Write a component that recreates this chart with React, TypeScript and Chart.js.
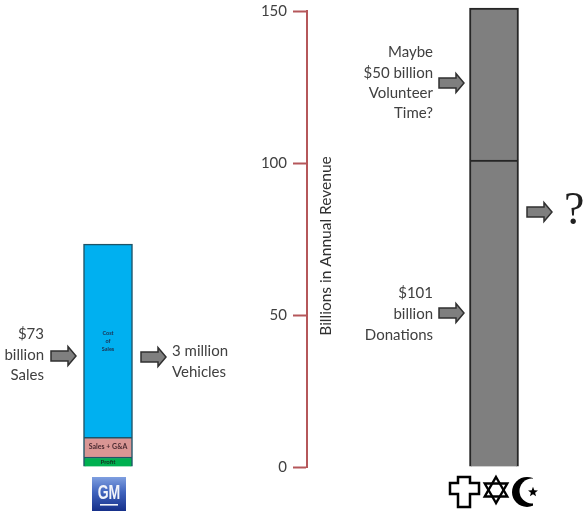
import React, { useEffect, useRef } from "react";
import { Chart, registerables } from "chart.js";

Chart.register(...registerables);

const categories = ["General Motors", "", "", "", "Religious Organizations"];
const profit = [3.3, null, null, null, null];
const salesGA = [6.5, null, null, null, null];
const costOfSales = [63.5, null, null, null, null];
const donations = [null, null, null, null, 101];
const volunteerTime = [null, null, null, null, 50];
const yTicks = [0, 50, 100, 150];
const yAxisTitle = "Billions in Annual Revenue";

const INK = "#404040";
const FONT = "Lato, 'Open Sans', sans-serif";

const notes = [
  { lines: ["$73", "billion", "Sales"], x: 44, y: [334, 355, 375], align: "right" },
  { lines: ["3 million", "Vehicles"], x: 172, y: [351, 372], align: "left" },
  { lines: ["Maybe", "$50 billion", "Volunteer", "Time?"], x: 433, y: [52, 73, 93, 113], align: "right" },
  { lines: ["$101", "billion", "Donations"], x: 433, y: [293, 314, 335], align: "right" },
];
const arrows = [
  [51, 356],
  [141, 357],
  [439, 83],
  [439, 313],
  [527, 212],
];

function drawArrow(ctx: CanvasRenderingContext2D, x: number, y: number) {
  ctx.beginPath();
  ctx.moveTo(x, y - 5);
  ctx.lineTo(x + 17, y - 5);
  ctx.lineTo(x + 17, y - 9.5);
  ctx.lineTo(x + 25, y);
  ctx.lineTo(x + 17, y + 9.5);
  ctx.lineTo(x + 17, y + 5);
  ctx.lineTo(x, y + 5);
  ctx.closePath();
  ctx.fillStyle = "#7f7f7f";
  ctx.fill();
  ctx.strokeStyle = "#303030";
  ctx.lineWidth = 1.5;
  ctx.stroke();
}

function drawLogo(ctx: CanvasRenderingContext2D) {
  const g = ctx.createLinearGradient(0, 477, 0, 511);
  g.addColorStop(0, "#7f9fe0");
  g.addColorStop(0.45, "#3f63bd");
  g.addColorStop(1, "#16308a");
  ctx.fillStyle = g;
  ctx.fillRect(92, 477, 34, 34);
  ctx.fillStyle = "#f2f4fa";
  ctx.textAlign = "center";
  ctx.textBaseline = "middle";
  ctx.save();
  ctx.translate(109, 493);
  ctx.scale(0.78, 1.15);
  ctx.font = `bold 18px 'Liberation Sans', sans-serif`;
  ctx.fillText("GM", 0, 0);
  ctx.restore();
  ctx.fillRect(100, 504, 18, 1.6);
}

function drawSymbols(ctx: CanvasRenderingContext2D) {
  ctx.lineJoin = "miter";
  ctx.beginPath();
  const cross = [
    [458, 477], [470, 477], [470, 483], [479, 483], [479, 494], [470, 494],
    [470, 507], [458, 507], [458, 494], [450, 494], [450, 483], [458, 483],
  ];
  cross.forEach(([x, y], i) => (i ? ctx.lineTo(x, y) : ctx.moveTo(x, y)));
  ctx.closePath();
  ctx.fillStyle = "#ffffff";
  ctx.fill();
  ctx.strokeStyle = "#000000";
  ctx.lineWidth = 2.5;
  ctx.stroke();

  ctx.lineWidth = 2.4;
  const cx = 496;
  const cy = 490;
  const r = 13;
  [-Math.PI / 2, Math.PI / 2].forEach((start) => {
    ctx.beginPath();
    for (let i = 0; i < 3; i++) {
      const a = start + (i * 2 * Math.PI) / 3;
      const px = cx + r * Math.cos(a);
      const py = cy + r * Math.sin(a);
      if (i) ctx.lineTo(px, py);
      else ctx.moveTo(px, py);
    }
    ctx.closePath();
    ctx.stroke();
  });

  ctx.beginPath();
  ctx.arc(527, 492, 15, 0, Math.PI * 2);
  ctx.fillStyle = "#000000";
  ctx.fill();
  ctx.beginPath();
  ctx.arc(532, 491, 12.5, 0, Math.PI * 2);
  ctx.fillStyle = "#ffffff";
  ctx.fill();
  ctx.fillRect(533, 474, 12, 36);

  ctx.beginPath();
  for (let i = 0; i < 10; i++) {
    const a = -Math.PI / 2 + (i * Math.PI) / 5;
    const rad = i % 2 ? 2.2 : 5.2;
    const px = 533 + rad * Math.cos(a);
    const py = 492 + rad * Math.sin(a);
    if (i) ctx.lineTo(px, py);
    else ctx.moveTo(px, py);
  }
  ctx.closePath();
  ctx.fillStyle = "#000000";
  ctx.fill();
}

const annotations = {
  id: "annotations",
  afterDatasetsDraw(chart: any) {
    const ctx: CanvasRenderingContext2D = chart.ctx;
    ctx.save();
    ctx.textBaseline = "middle";
    ctx.fillStyle = INK;
    ctx.font = `15px ${FONT}`;
    notes.forEach((n) => {
      ctx.textAlign = n.align as CanvasTextAlign;
      n.lines.forEach((line, i) => ctx.fillText(line, n.x, n.y[i]));
    });

    ctx.save();
    ctx.translate(326, 246);
    ctx.rotate(-Math.PI / 2);
    ctx.textAlign = "center";
    ctx.font = `15.5px ${FONT}`;
    ctx.fillStyle = "#303030";
    ctx.fillText(yAxisTitle, 0, 0);
    ctx.restore();

    arrows.forEach(([x, y]) => drawArrow(ctx, x, y));

    ctx.fillStyle = "#202020";
    ctx.font = "46px 'Liberation Serif', serif";
    ctx.textAlign = "left";
    ctx.fillText("?", 564, 212);

    // labels inside the General Motors segments
    const at = (ds: number) => chart.getDatasetMeta(ds).data[0];
    ctx.textAlign = "center";
    ctx.fillStyle = "#1c3050";
    ctx.font = `bold 5.5px ${FONT}`;
    const cost = at(2);
    ["Cost", "of", "Sales"].forEach((t, i) => ctx.fillText(t, cost.x, cost.y + 89 + i * 8));
    ctx.fillStyle = "#4a2a30";
    ctx.font = `bold 7px ${FONT}`;
    const mid = at(1);
    ctx.fillText("Sales + G&A", mid.x, (mid.y + mid.base) / 2);
    ctx.fillStyle = "#123020";
    ctx.font = `bold 6px ${FONT}`;
    const pr = at(0);
    ctx.fillText("Profit", pr.x, (pr.y + pr.base) / 2);

    drawLogo(ctx);
    drawSymbols(ctx);
    ctx.restore();
  },
};

export default function App() {
  const ref = useRef<HTMLCanvasElement | null>(null);
  useEffect(() => {
    if (!ref.current) return;
    const common = { stack: "all", barThickness: 49, categoryPercentage: 1, barPercentage: 1, clip: false };
    const gmBorder = "#1f5468";
    const relBorder = "#262626";
    const setTicks = (axis: any) => {
      axis.ticks = yTicks.map((value) => ({ value }));
    };
    const chart = new Chart(ref.current, {
      type: "bar",
      data: {
        labels: categories,
        datasets: [
          { label: "Profit", data: profit, backgroundColor: "#00b050", borderColor: gmBorder, borderWidth: 1.5, ...common },
          { label: "Sales + G&A", data: salesGA, backgroundColor: "#d99694", borderColor: gmBorder, borderWidth: 1.5, ...common },
          { label: "Cost of Sales", data: costOfSales, backgroundColor: "#00b0f0", borderColor: gmBorder, borderWidth: 1.5, ...common },
          { label: "Donations", data: donations, backgroundColor: "#7f7f7f", borderColor: relBorder, borderWidth: 2, ...common },
          { label: "Volunteer Time", data: volunteerTime, backgroundColor: "#7f7f7f", borderColor: relBorder, borderWidth: 2, ...common },
        ],
      } as any,
      options: {
        responsive: false,
        animation: false,
        layout: { padding: { left: 59.75, right: 41.75, top: 11, bottom: 47 } },
        plugins: { legend: { display: false }, tooltip: { enabled: false }, title: { display: false } },
        scales: {
          x: { display: false, stacked: true, grid: { display: false } },
          y: {
            stacked: true,
            min: 0,
            max: 150,
            position: { x: 2.062 },
            afterBuildTicks: setTicks,
            grid: { drawOnChartArea: false, drawTicks: true, tickLength: 13, tickColor: "#b5575a", tickWidth: 2 },
            border: { display: true, color: "#b5575a", width: 2 },
            ticks: { display: false, padding: 0 },
          },
          yLabels: {
            axis: "y",
            min: 0,
            max: 150,
            position: { x: 1.855 },
            afterBuildTicks: setTicks,
            grid: { display: false, drawTicks: false },
            border: { display: false },
            ticks: { color: INK, padding: 0, font: { family: FONT, size: 15 } },
          },
        },
      } as any,
      plugins: [annotations],
    });
    return () => chart.destroy();
  }, []);
  return (
    <canvas
      ref={ref}
      width={584}
      height={514}
      style={{ position: "absolute", left: 0, top: 0, display: "block", width: 584, height: 514, background: "#ffffff" }}
    />
  );
}
